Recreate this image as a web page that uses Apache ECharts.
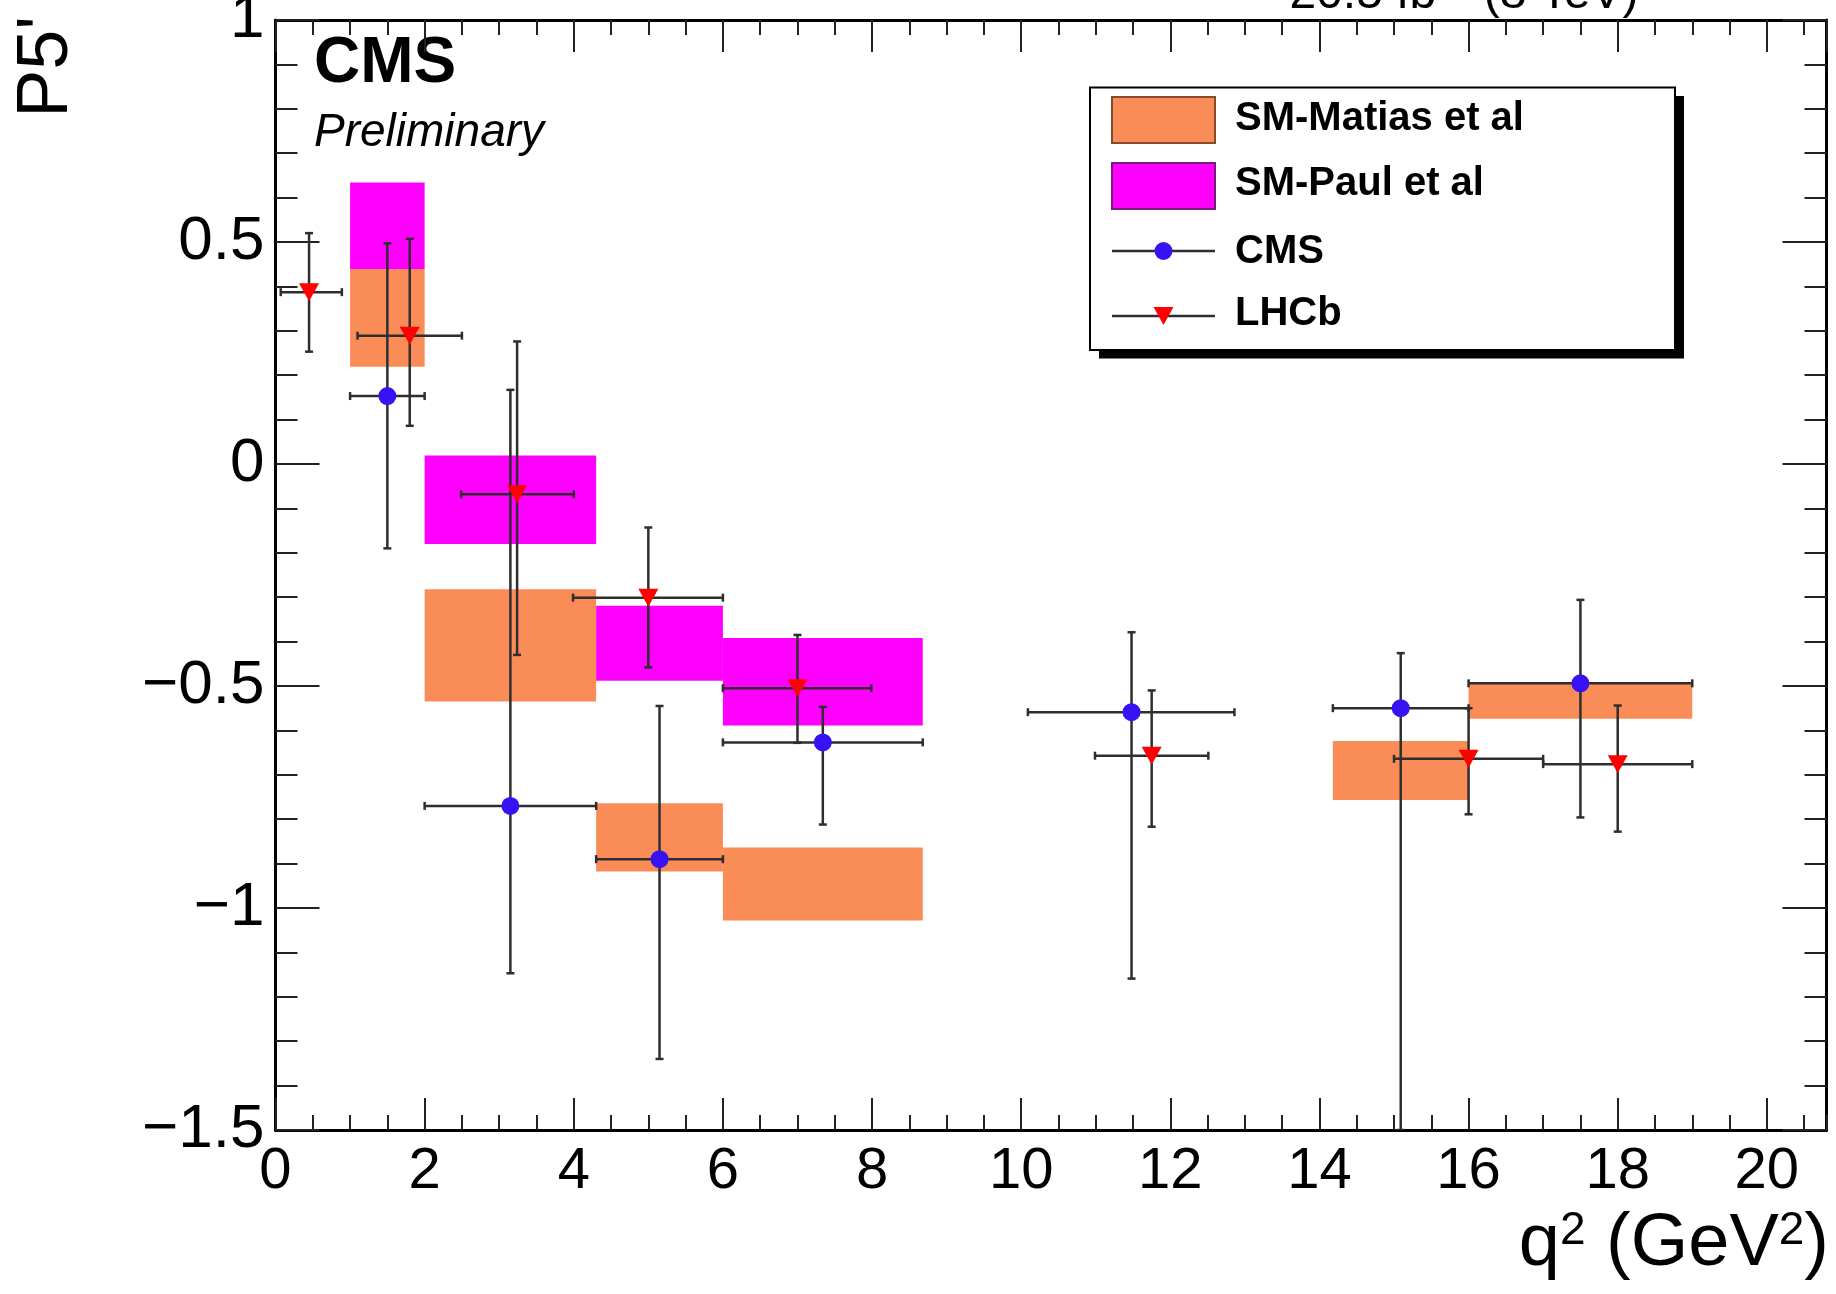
<!DOCTYPE html>
<html>
<head>
<meta charset="utf-8">
<script src="https://cdn.jsdelivr.net/npm/echarts@6/dist/echarts.min.js"></script>
<style>
  html, body { margin: 0; padding: 0; background: #fff; }
  #chart { width: 1836px; height: 1294px; }
</style>
</head>
<body>
<div id="chart"></div>
<script>
// ---- SM prediction bands (Matias et al) : q2 bin edges and P5' band ----
const matiasQ2Lo = [1.0, 2.0, 4.3, 6.0, 14.18, 16.0];
const matiasQ2Hi = [2.0, 4.3, 6.0, 8.68, 16.0, 19.0];
const matiasLo   = [0.219, -0.535, -0.918, -1.028, -0.757, -0.574];
const matiasHi   = [0.439, -0.282, -0.764, -0.864, -0.624, -0.494];

// ---- SM prediction bands (Paul et al) ----
const paulQ2Lo = [1.0, 2.0, 4.3, 6.0];
const paulQ2Hi = [2.0, 4.3, 6.0, 8.68];
const paulLo   = [0.439, -0.180, -0.488, -0.589];
const paulHi   = [0.634, 0.019, -0.319, -0.392];

// ---- CMS measurement ----
const cmsQ2   = [1.50, 3.15, 5.15, 7.34, 11.48, 15.09, 17.50];
const cmsP5   = [0.153, -0.770, -0.890, -0.627, -0.559, -0.550, -0.494];
const cmsQ2Lo = [1.0, 2.0, 4.3, 6.0, 10.09, 14.18, 16.0];
const cmsQ2Hi = [2.0, 4.3, 6.0, 8.68, 12.86, 16.0, 19.0];
const cmsP5Lo = [-0.190, -1.147, -1.340, -0.812, -1.159, -1.5, -0.796];
const cmsP5Hi = [0.497, 0.167, -0.545, -0.547, -0.379, -0.426, -0.306];

// ---- LHCb measurement ----
const lhcbQ2   = [0.45, 1.80, 3.24, 5.00, 7.00, 11.75, 16.00, 18.00];
const lhcbP5   = [0.387, 0.289, -0.068, -0.301, -0.505, -0.657, -0.664, -0.676];
const lhcbQ2Lo = [0.07, 1.10, 2.49, 3.99, 6.00, 10.99, 15.00, 17.00];
const lhcbQ2Hi = [0.89, 2.50, 4.00, 6.00, 7.99, 12.51, 17.00, 19.00];
const lhcbP5Lo = [0.253, 0.086, -0.430, -0.458, -0.628, -0.817, -0.789, -0.828];
const lhcbP5Hi = [0.520, 0.507, 0.276, -0.143, -0.385, -0.510, -0.550, -0.544];

// ---- axes ----
const xMin = 0, xMax = 20.8, xMajor = 2, xMinor = 0.5;
const yMin = -1.5, yMax = 1, yMajor = 0.5;

const FONT = "'Liberation Sans', Arial, Helvetica, sans-serif";
const ORANGE = '#fa8d57';
const MAGENTA = '#ff00ff';
const BLUE = '#3612f4';
const RED = '#ff0000';
const ERR = '#2e2e2e';

const gridRect = { left: 275.5, right: 9.5, top: 20, bottom: 164 };

function minusFmt(v) {
  return v < 0 ? '\u2212' + String(Math.abs(v)) : String(v);
}

function boxSeries(name, qLo, qHi, lo, hi, color, z) {
  return {
    type: 'custom', name: name, xAxisIndex: 0, yAxisIndex: 0, z: z, clip: true,
    data: qLo.map((v, i) => [v, qHi[i], lo[i], hi[i]]),
    encode: { x: [0, 1], y: [2, 3] },
    renderItem: function (params, api) {
      const tl = api.coord([api.value(0), api.value(3)]);
      const br = api.coord([api.value(1), api.value(2)]);
      return {
        type: 'rect',
        shape: { x: tl[0], y: tl[1], width: br[0] - tl[0], height: br[1] - tl[1] },
        style: { fill: color }
      };
    }
  };
}

function errorSeries(name, q2, p5, qLo, qHi, pLo, pHi, z) {
  return {
    type: 'custom', name: name, xAxisIndex: 0, yAxisIndex: 0, z: z, clip: true,
    data: q2.map((v, i) => [v, p5[i], qLo[i], qHi[i], pLo[i], pHi[i]]),
    encode: { x: [0, 2, 3], y: [1, 4, 5] },
    renderItem: function (params, api) {
      const x = api.value(0), y = api.value(1);
      const L = api.coord([api.value(2), y]);
      const R = api.coord([api.value(3), y]);
      const B = api.coord([x, api.value(4)]);
      const T = api.coord([x, api.value(5)]);
      const cap = 4;
      const st = { stroke: ERR, lineWidth: 2.5 };
      const seg = (x1, y1, x2, y2) => ({ type: 'line', shape: { x1, y1, x2, y2 }, style: st });
      return {
        type: 'group',
        children: [
          seg(L[0], L[1], R[0], R[1]),
          seg(T[0], T[1], B[0], B[1]),
          seg(L[0], L[1] - cap, L[0], L[1] + cap),
          seg(R[0], R[1] - cap, R[0], R[1] + cap),
          seg(T[0] - cap, T[1], T[0] + cap, T[1]),
          seg(B[0] - cap, B[1], B[0] + cap, B[1])
        ]
      };
    }
  };
}

function majorX(position, showLabel) {
  return {
    type: 'value', gridIndex: 0, position: position, min: xMin, max: xMax, interval: xMajor,
    axisLine: { show: true, onZero: false, lineStyle: { color: '#000', width: 3 } },
    axisTick: { show: true, inside: true, length: 32, lineStyle: { color: '#222', width: 2 } },
    minorTick: { show: false },
    splitLine: { show: false },
    axisLabel: {
      show: showLabel, showMaxLabel: false, margin: 13,
      fontSize: 58, fontFamily: FONT, color: '#000'
    }
  };
}

function minorX(position) {
  return {
    type: 'value', gridIndex: 1, position: position, min: xMin, max: xMax, interval: xMinor,
    axisLine: { show: false, onZero: false },
    axisTick: { show: true, inside: true, length: 15, lineStyle: { color: '#222', width: 2 } },
    splitLine: { show: false },
    axisLabel: { show: false }
  };
}

function axisY(position, showLabel) {
  return {
    type: 'value', gridIndex: 0, position: position, min: yMin, max: yMax, interval: yMajor,
    axisLine: { show: true, onZero: false, lineStyle: { color: '#000', width: 3 } },
    axisTick: { show: true, inside: true, length: 44, lineStyle: { color: '#222', width: 2 } },
    minorTick: { show: true, splitNumber: 5, length: 22, lineStyle: { color: '#222', width: 2 } },
    splitLine: { show: false },
    axisLabel: {
      show: showLabel, margin: 11, fontSize: 62, fontFamily: FONT, color: '#000',
      formatter: minusFmt
    }
  };
}

// ---- legend drawn as a ROOT-style box with a drop shadow ----
const legX = 1090, legY = 87.5, legW = 585, legH = 262.5;
const swX = 1112, swW = 103, txtX = 1235;
const legendText = (text, y) => ({
  type: 'text', x: txtX, y: y,
  style: { text: text, font: "bold 40px " + FONT, fill: '#000', verticalAlign: 'middle', align: 'left' }
});
const legend = [
  { type: 'rect', shape: { x: legX + 9, y: legY + 8.5, width: legW, height: legH }, style: { fill: '#000' } },
  { type: 'rect', shape: { x: legX, y: legY, width: legW, height: legH }, style: { fill: '#fff', stroke: '#000', lineWidth: 2 } },
  { type: 'rect', shape: { x: swX, y: 97, width: swW, height: 46 }, style: { fill: ORANGE, stroke: '#8a4a2a', lineWidth: 2 } },
  legendText('SM-Matias et al', 119),
  { type: 'rect', shape: { x: swX, y: 163, width: swW, height: 46 }, style: { fill: MAGENTA, stroke: '#7a1a7a', lineWidth: 2 } },
  legendText('SM-Paul et al', 184),
  { type: 'line', shape: { x1: swX, y1: 251, x2: swX + swW, y2: 251 }, style: { stroke: ERR, lineWidth: 2.5 } },
  { type: 'circle', shape: { cx: swX + swW / 2, cy: 251, r: 9 }, style: { fill: BLUE } },
  legendText('CMS', 252),
  { type: 'line', shape: { x1: swX, y1: 316, x2: swX + swW, y2: 316 }, style: { stroke: ERR, lineWidth: 2.5 } },
  { type: 'polygon', shape: { points: [[swX + swW / 2 - 10, 307], [swX + swW / 2 + 10, 307], [swX + swW / 2, 325]] }, style: { fill: RED } },
  legendText('LHCb', 314)
];

// ---- captions ----
const captions = [
  { type: 'text', x: 314, y: 64,
    style: { text: 'CMS', font: "bold 64px " + FONT, fill: '#000', verticalAlign: 'middle', align: 'left' } },
  { type: 'text', x: 314, y: 133,
    style: { text: 'Preliminary', font: "italic 46px " + FONT, fill: '#000', verticalAlign: 'middle', align: 'left' } },
  { type: 'text', x: 1464, y: -5,
    style: {
      text: '{n|20.5 fb}{s|\u22121}{n| (8 TeV)}', align: 'center', verticalAlign: 'middle',
      rich: {
        n: { fontSize: 48, fontFamily: FONT, fill: '#000', color: '#000' },
        s: { fontSize: 30, fontFamily: FONT, fill: '#000', color: '#000', verticalAlign: 'top' }
      }
    } },
  { type: 'text', x: 47, y: 16, rotation: Math.PI / 2,
    style: { text: "P5'", font: "72px " + FONT, fill: '#000', align: 'right', verticalAlign: 'middle' } },
  { type: 'text', x: 1829, y: 1245,
    style: {
      text: '{n|q}{s|2}{n| (GeV}{s|2}{n|)}', align: 'right', verticalAlign: 'middle',
      rich: {
        n: { fontSize: 74, fontFamily: FONT, fill: '#000', color: '#000' },
        s: { fontSize: 46, fontFamily: FONT, fill: '#000', color: '#000', verticalAlign: 'top' }
      }
    } }
];

const chart = echarts.init(document.getElementById('chart'), null, { renderer: 'canvas' });

chart.setOption({
  animation: false,
  backgroundColor: '#fff',
  grid: [
    Object.assign({ containLabel: false, outerBoundsMode: 'none' }, gridRect),
    Object.assign({ containLabel: false, outerBoundsMode: 'none' }, gridRect)
  ],
  xAxis: [majorX('bottom', true), majorX('top', false), minorX('bottom'), minorX('top')],
  yAxis: [
    axisY('left', true),
    axisY('right', false),
    { type: 'value', gridIndex: 1, show: false, min: yMin, max: yMax }
  ],
  series: [
    boxSeries('SM-Matias et al', matiasQ2Lo, matiasQ2Hi, matiasLo, matiasHi, ORANGE, 1),
    boxSeries('SM-Paul et al', paulQ2Lo, paulQ2Hi, paulLo, paulHi, MAGENTA, 2),
    errorSeries('CMS errors', cmsQ2, cmsP5, cmsQ2Lo, cmsQ2Hi, cmsP5Lo, cmsP5Hi, 3),
    errorSeries('LHCb errors', lhcbQ2, lhcbP5, lhcbQ2Lo, lhcbQ2Hi, lhcbP5Lo, lhcbP5Hi, 3),
    {
      type: 'scatter', name: 'CMS', xAxisIndex: 0, yAxisIndex: 0, z: 4,
      symbol: 'circle', symbolSize: 18, itemStyle: { color: BLUE, opacity: 1 },
      data: cmsQ2.map((v, i) => [v, cmsP5[i]])
    },
    {
      type: 'scatter', name: 'LHCb', xAxisIndex: 0, yAxisIndex: 0, z: 4,
      symbol: 'triangle', symbolRotate: 180, symbolSize: [20, 18], itemStyle: { color: RED, opacity: 1 },
      data: lhcbQ2.map((v, i) => [v, lhcbP5[i]])
    }
  ],
  graphic: { elements: legend.concat(captions) }
});
</script>
</body>
</html>
